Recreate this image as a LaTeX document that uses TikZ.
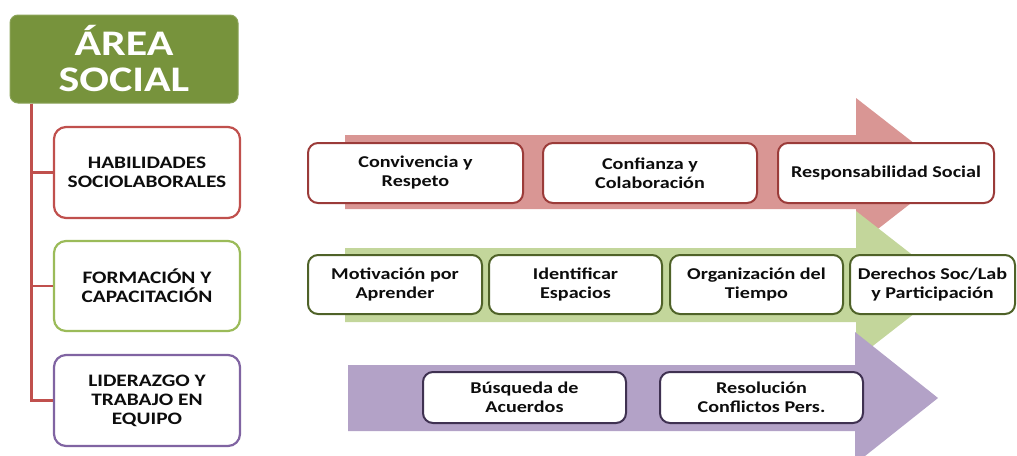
\documentclass[tikz,border=0pt]{standalone}
\usepackage{fontspec}
\newfontfamily\calb{Carlito}[FakeStretch=1.22]
\definecolor{titlegreen}{HTML}{77933C}
\definecolor{linered}{HTML}{C0504D}
\definecolor{boxgreen}{HTML}{9BBB59}
\definecolor{boxpurple}{HTML}{8064A2}
\definecolor{arrred}{HTML}{D99694}
\definecolor{arrgreen}{HTML}{C3D69B}
\definecolor{arrpurple}{HTML}{B3A2C7}
\definecolor{edgered}{HTML}{9B3B39}
\definecolor{edgegreen}{HTML}{4F6228}
\definecolor{edgepurple}{HTML}{3F3151}
\definecolor{txt}{HTML}{0D0D0D}
\tikzset{
  titlebox/.style={rectangle, rounded corners=8pt, fill=titlegreen, draw=titlegreen!85!white, line width=1pt,
    minimum width=228pt, minimum height=88pt, inner sep=0pt, text=white, align=center,
    font=\calb\bfseries\fontsize{36}{36}\selectfont},
  catbox/.style={rectangle, rounded corners=12pt, fill=white, line width=2.2pt,
    minimum width=186pt, inner sep=0pt, text=txt, align=center,
    font=\calb\bfseries\fontsize{17.5}{19}\selectfont},
  itembox/.style={rectangle, rounded corners=10pt, fill=white, line width=2pt,
    inner sep=0pt, text=txt, align=center,
    font=\calb\bfseries\fontsize{16.5}{19}\selectfont},
  conn/.style={draw=linered, line width=2.4pt},
  bigarrow/.style={draw=none}
}
\begin{document}
\begin{tikzpicture}[x=1pt,y=-1pt]
\useasboundingbox (0,0) rectangle (1017,455);
% title
\node[titlebox] (title) at (124,59) {ÁREA\\SOCIAL};
% category boxes
\node[catbox, draw=linered, minimum height=91pt] (hab) at (147,172.5) {HABILIDADES\\SOCIOLABORALES};
\node[catbox, draw=boxgreen, minimum height=90pt] (form) at (147,286) {FORMACIÓN Y\\CAPACITACIÓN};
\node[catbox, draw=boxpurple, minimum height=91pt] (lid) at (147,400.5) {LIDERAZGO Y\\TRABAJO EN\\EQUIPO};
\coordinate (trunk) at ([xshift=22pt]title.south west);
\draw[conn] (trunk) |- (lid.west);
\draw[conn] (trunk) |- (hab.west);
\draw[conn] (trunk) |- (form.west);
% red row
\fill[arrred] (345,135) -- (856,135) -- (856,98) -- (951,172) -- (856,246) -- (856,209) -- (345,209) -- cycle;
\node[itembox, draw=edgered, minimum width=215pt, minimum height=60pt] (conv) at (415.5,173) {Convivencia y\\Respeto};
\node[itembox, draw=edgered, minimum width=214pt, minimum height=60pt] (conf) at (650,173) {Confianza y\\Colaboración};
\node[itembox, draw=edgered, minimum width=216pt, minimum height=60pt] (resp) at (886,173) {Responsabilidad Social};
% green row
\fill[arrgreen] (345,248) -- (856,248) -- (856,211) -- (951,285) -- (856,359) -- (856,322) -- (345,322) -- cycle;
\node[itembox, draw=edgegreen, minimum width=174pt, minimum height=59pt] (moti) at (395,284.5) {Motivación por\\Aprender};
\node[itembox, draw=edgegreen, minimum width=173pt, minimum height=59pt] (iden) at (575.5,284.5) {Identificar\\Espacios};
\node[itembox, draw=edgegreen, minimum width=173pt, minimum height=59pt] (orga) at (756.5,284.5) {Organización del\\Tiempo};
\node[itembox, draw=edgegreen, minimum width=165pt, minimum height=59pt] (dere) at (932.5,284.5) {Derechos Soc/Lab\\y Participación};
% purple row
\fill[arrpurple] (348,365) -- (855,365) -- (855,332) -- (938,398) -- (855,464) -- (855,431) -- (348,431) -- cycle;
\node[itembox, draw=edgepurple, minimum width=203pt, minimum height=51pt] (busq) at (524.5,397.5) {Búsqueda de\\Acuerdos};
\node[itembox, draw=edgepurple, minimum width=203pt, minimum height=51pt] (reso) at (761.5,397.5) {Resolución\\Conflictos Pers.};
\end{tikzpicture}
\end{document}
